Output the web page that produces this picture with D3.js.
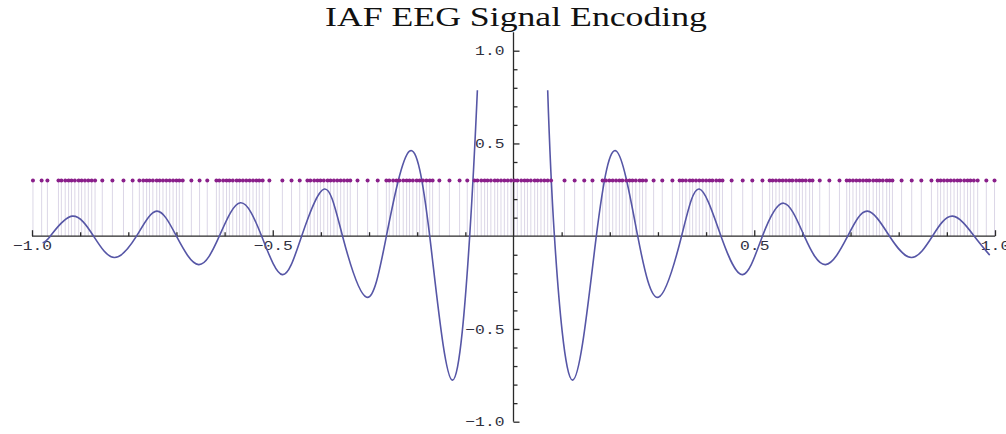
<!DOCTYPE html>
<html>
<head>
<meta charset="utf-8">
<script src="https://cdn.jsdelivr.net/npm/d3@7"></script>
<style>
  body { margin: 0; background: #fff; }
  .os path { display: none; }
  .os line { stroke: #2a2a2a; stroke-width: 1.3; }
  .os text { font-family: "Liberation Mono", monospace; font-size: 13px; fill: #30303e; }
</style>
</head>
<body>
<div id="okvir"></div>
<script>
// naslov
const naslov = "IAF EEG Signal Encoding"

// signal (lijeva i desna grana, ocitano sa slike)
const lijevoX = [-0.978, -0.962, -0.917, -0.872, -0.829, -0.783, -0.741, -0.700, -0.654, -0.611, -0.567, -0.523,
  -0.480, -0.440, -0.393, -0.355, -0.305, -0.264, -0.216, -0.174, -0.127, -0.091, -0.075]
const lijevoY = [-0.035, 0, 0.108, 0, -0.115, 0, 0.135, 0, -0.153, 0, 0.180, 0,
  -0.207, 0, 0.254, 0, -0.329, 0, 0.458, 0, -0.776, 0, 0.787]
const desnoX = [0.071, 0.085, 0.123, 0.172, 0.214, 0.258, 0.301, 0.349, 0.386, 0.431, 0.476, 0.517,
  0.561, 0.604, 0.648, 0.694, 0.735, 0.781, 0.827, 0.870, 0.912, 0.957, 0.989]
const desnoY = [0.787, 0, -0.776, 0, 0.458, 0, -0.329, 0, 0.254, 0, -0.207, 0,
  0.178, 0, -0.153, 0, 0.135, 0, -0.115, 0, 0.108, 0, -0.102]

// vremena impulsa (integrate-and-fire) i njihova razina
const razinaImpulsa = 0.3
const impulsi = [
  -0.998, -0.980, -0.968,
  -0.945, -0.939, -0.931, -0.924, -0.918, -0.911, -0.903, -0.897, -0.890, -0.883, -0.876, -0.869,
  -0.854, -0.833, -0.810, -0.791,
  -0.777, -0.769, -0.762, -0.756, -0.749, -0.741, -0.735, -0.728, -0.721, -0.714, -0.707, -0.700, -0.694, -0.687,
  -0.669, -0.652, -0.636,
  -0.617, -0.611, -0.603, -0.596, -0.590, -0.583, -0.575, -0.569, -0.562, -0.555, -0.548, -0.541, -0.534, -0.528, -0.521,
  -0.507, -0.480, -0.461, -0.444,
  -0.428, -0.422, -0.414, -0.407, -0.401, -0.394, -0.386, -0.380, -0.373, -0.366, -0.359, -0.352, -0.345, -0.339,
  -0.324, -0.303, -0.282,
  -0.264, -0.258, -0.250, -0.243, -0.237, -0.229, -0.222, -0.216, -0.209, -0.201, -0.195, -0.188, -0.181, -0.174, -0.168,
  -0.154, -0.133, -0.112, -0.096,
  -0.081, -0.075, -0.067, -0.060, -0.054, -0.047, -0.039, -0.033, -0.026, -0.019, -0.012, -0.005,
  0.002, 0.008, 0.016, 0.023, 0.029, 0.036, 0.044, 0.050, 0.057, 0.064, 0.071, 0.078,
  0.106, 0.127, 0.147, 0.164,
  0.185, 0.192, 0.199, 0.206, 0.213, 0.220, 0.226, 0.234, 0.241, 0.247, 0.254, 0.262, 0.268, 0.275,
  0.291, 0.309, 0.330,
  0.345, 0.351, 0.358, 0.366, 0.372, 0.379, 0.386, 0.393, 0.400, 0.407, 0.413, 0.421, 0.428, 0.434,
  0.453, 0.476, 0.496, 0.517,
  0.532, 0.538, 0.545, 0.552, 0.559, 0.566, 0.573, 0.579, 0.587, 0.594, 0.600, 0.607, 0.615, 0.621,
  0.636, 0.656, 0.677,
  0.692, 0.698, 0.705, 0.712, 0.719, 0.726, 0.733, 0.739, 0.747, 0.754, 0.760, 0.767, 0.775, 0.781, 0.787,
  0.806, 0.827, 0.847, 0.868,
  0.881, 0.887, 0.894, 0.901, 0.908, 0.915, 0.922, 0.928, 0.936, 0.943, 0.949, 0.956, 0.964,
  0.982, 0.999
]

// oznake osi
const xGlavne = [-1, -0.5, 0.5, 1]
const xOznake = ["\u22121.0", "\u22120.5", "0.5", "1.0"]
const xSporedne = [-0.9, -0.8, -0.7, -0.6, -0.4, -0.3, -0.2, -0.1, 0.1, 0.2, 0.3, 0.4, 0.6, 0.7, 0.8, 0.9]
const yGlavne = [-1, -0.5, 0.5, 1]
const yOznake = ["\u22121.0", "\u22120.5", "0.5", "1.0"]
const ySporedne = [-0.9, -0.8, -0.7, -0.6, -0.4, -0.3, -0.2, -0.1, 0.1, 0.2, 0.3, 0.4, 0.6, 0.7, 0.8, 0.9]

function crtaj() {

  // 1. Dimenzije
  const dimenzije = { sirina: 1006, visina: 434, xLijevo: 32, xDesno: 995, yDolje: 421.7, yGore: 50.7 }

  const okvir = d3.select("#okvir")
    .append("svg")
      .attr("width", dimenzije.sirina)
      .attr("height", dimenzije.visina)

  // 2. Skale
  const xSkala = d3.scaleLinear()
    .domain([-1, 1])
    .range([dimenzije.xLijevo, dimenzije.xDesno])

  const ySkala = d3.scaleLinear()
    .domain([-1, 1])
    .range([dimenzije.yDolje, dimenzije.yGore])

  // 3. Stupici impulsa
  okvir.append("g")
    .selectAll("line")
    .data(impulsi)
    .enter().append("line")
      .attr("x1", d => xSkala(d))
      .attr("x2", d => xSkala(d))
      .attr("y1", ySkala(0))
      .attr("y2", ySkala(razinaImpulsa))
      .attr("stroke", "#b9b0d0")
      .attr("stroke-opacity", 0.5)
      .attr("stroke-width", 1)

  // 4. Osi
  const xOs = okvir.append("g")
      .attr("class", "os")
      .attr("transform", `translate(0, ${ySkala(0)})`)
  xOs.call(d3.axisBottom(xSkala).tickValues(xGlavne).tickSize(-6).tickSizeOuter(0).tickPadding(5)
      .tickFormat((d, i) => xOznake[i]))
  xOs.call(g => g.append("g").call(d3.axisBottom(xSkala).tickValues(xSporedne).tickSize(-4).tickSizeOuter(0).tickFormat("")))
  xOs.append("line")
      .attr("x1", xSkala(-1)).attr("x2", xSkala(1))
  xOs.selectAll("text").attr("textLength", function () { return this.textContent.length * 9.8 })
      .attr("lengthAdjust", "spacingAndGlyphs")

  const yOs = okvir.append("g")
      .attr("class", "os")
      .attr("transform", `translate(${xSkala(0)}, 0)`)
  yOs.call(d3.axisLeft(ySkala).tickValues(yGlavne).tickSize(-6).tickSizeOuter(0).tickPadding(9)
      .tickFormat((d, i) => yOznake[i]))
  yOs.call(g => g.append("g").call(d3.axisLeft(ySkala).tickValues(ySporedne).tickSize(-4).tickSizeOuter(0).tickFormat("")))
  yOs.append("line")
      .attr("y1", ySkala(-1)).attr("y2", ySkala(1.1))
  yOs.selectAll("text").attr("textLength", function () { return this.textContent.length * 9.8 })
      .attr("lengthAdjust", "spacingAndGlyphs")

  // 5. Signal
  const linija = d3.line()
    .x(d => xSkala(d[0]))
    .y(d => ySkala(d[1]))
    .curve(d3.curveNatural)

  const grane = [d3.zip(lijevoX, lijevoY), d3.zip(desnoX, desnoY)]
  okvir.append("g")
    .selectAll("path")
    .data(grane)
    .enter().append("path")
      .attr("d", linija)
      .attr("fill", "none")
      .attr("stroke", "#5656a6")
      .attr("stroke-width", 1.6)

  // 6. Tocke impulsa
  okvir.append("g")
    .selectAll("circle")
    .data(impulsi)
    .enter().append("circle")
      .attr("cx", d => xSkala(d))
      .attr("cy", ySkala(razinaImpulsa))
      .attr("r", 2)
      .attr("fill", "#8a1f8a")

  // 7. Naslov
  okvir.append("text")
      .attr("x", 516)
      .attr("y", 26)
      .attr("text-anchor", "middle")
      .attr("textLength", 382)
      .attr("lengthAdjust", "spacingAndGlyphs")
      .style("font-family", "'Liberation Serif', serif")
      .style("font-size", "27px")
      .style("fill", "#111")
      .text(naslov)
}
crtaj()
</script>
</body>
</html>
